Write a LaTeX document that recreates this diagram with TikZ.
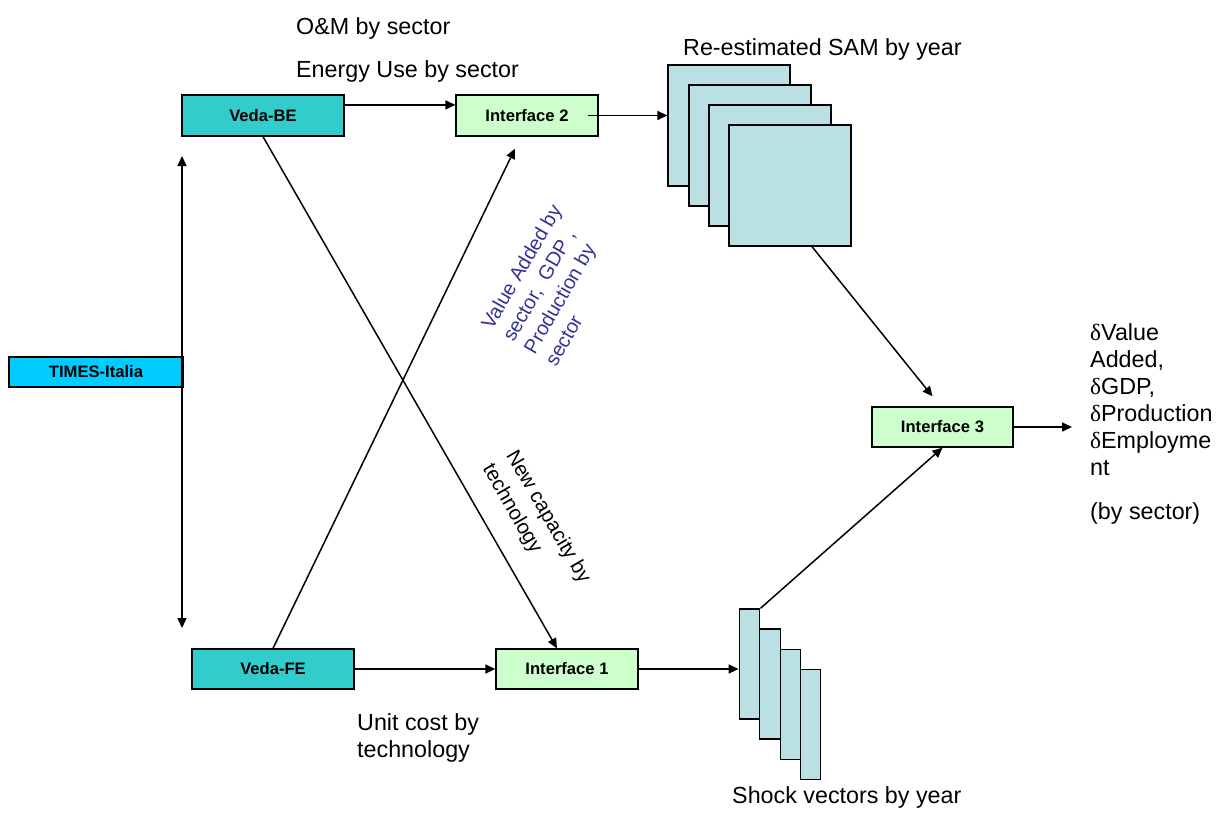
\documentclass[tikz,border=0pt]{standalone}
\usepackage{fontspec}
\setmainfont{Liberation Sans}
\newfontfamily\symf{Liberation Serif}
\usetikzlibrary{arrows.meta,calc}
\definecolor{veda}{HTML}{33CCCC}
\definecolor{times}{HTML}{00CCFF}
\definecolor{iface}{HTML}{CCFFCC}
\definecolor{sheet}{HTML}{BBE0E3}
\definecolor{lblue}{HTML}{333399}
\begin{document}
\begin{tikzpicture}[x=1pt,y=-1pt,
  box/.style={draw=black, line width=1.3pt, inner sep=0pt, font=\fontsize{16.6}{18}\selectfont\bfseries},
  sheetbox/.style={draw=black, line width=1.3pt, fill=sheet, inner sep=0pt, minimum width=122pt, minimum height=121pt},
  barbox/.style={draw=black, line width=1.3pt, fill=sheet, inner sep=0pt, minimum width=20.5pt, minimum height=110pt},
  arr/.style={line width=1.5pt, -{Triangle[length=10pt,width=9pt]}},
  txt/.style={font=\fontsize{23.3}{27}\selectfont, inner sep=0pt}]
\useasboundingbox (0,0) rectangle (1223,814);
% boxes
\node[box, fill=veda, minimum width=162pt, minimum height=41pt] (vbe) at (263,115.5) {Veda-BE};
\node[box, fill=iface, minimum width=142pt, minimum height=41pt] (if2) at (527,115.5) {Interface 2};
\node[box, fill=times, minimum width=174pt, minimum height=30pt] (times) at (96,372) {TIMES-Italia};
\node[box, fill=veda, minimum width=162pt, minimum height=40pt] (vfe) at (273,669) {Veda-FE};
\node[box, fill=iface, minimum width=142pt, minimum height=40pt] (if1) at (567,669) {Interface 1};
\node[box, fill=iface, minimum width=141pt, minimum height=40pt] (if3) at (942.5,427) {Interface 3};
% SAM sheets
\node[sheetbox] (sam1) at (729,125.5) {};
\node[sheetbox] (sam2) at (750,145.5) {};
\node[sheetbox] (sam3) at (770,165.5) {};
\node[sheetbox] (sam4) at (790,185.5) {};
% shock bars
\node[barbox] (bar1) at (749.5,664) {};
\node[barbox] (bar2) at (770,684) {};
\node[barbox] (bar3) at (790.5,704.5) {};
\node[barbox] (bar4) at (810.5,724.5) {};
% connectors
\draw[arr] ($(vbe.north east)!0.25!(vbe.south east)$) -- ($(if2.north west)!0.25!(if2.south west)$);
\draw[arr] ($(if2.east)+(-11,0)$) -- (sam1.west |- if2.east);
\draw[arr] (vfe.east) -- (if1.west);
\draw[arr] (if1.east) -- (bar1.west |- if1.east);
\draw[arr] (vbe.south) -- ($(if1.north)+(-10,0)$);
\draw[arr] (vfe.north) -- ($(if2.south)+(-12,12)$);
\draw[arr] ($(sam4.south)+(22,0)$) -- ($(if3.north)+(-10,-10)$);
\draw[arr] (bar1.north east) -- (if3.south);
\coordinate (out) at (1072,427);
\draw[arr] (if3.east) -- (out);
\coordinate (vt) at (182,156);
\coordinate (vb) at (182,628);
\draw[line width=1.5pt, {Triangle[length=10pt,width=9pt]}-{Triangle[length=10pt,width=9pt]}] (vt) -- (vb);
% texts
\node[txt, anchor=base west] (om) at (296,34) {O\&M by sector};
\node[txt, anchor=base west] (eu) at (296,77) {Energy Use by sector};
\node[txt, anchor=base west] (samlbl) at (683,55) {Re-estimated SAM by year};
\node[txt, anchor=base west, align=left] (uc) at (357,757) {Unit cost by\\technology};
\node[txt, anchor=base west] (shk) at (732,803) {Shock vectors by year};
\node[txt, anchor=base west, align=left] (res) at (1090,519) {{\symf δ}Value\\Added,\\{\symf δ}GDP,\\{\symf δ}Production\\{\symf δ}Employme\\nt\\[17pt](by sector)};
\node[rotate=60, align=left, inner sep=0pt, text=lblue, font=\fontsize{20}{24.5}\selectfont] (va) at (553,285) {Value Added by\\sector, \ GDP ,\\Production by\\sector};
\node[rotate=-60, align=left, inner sep=0pt, font=\fontsize{20.5}{27}\selectfont] (nc) at (536,524) {New capacity by\\technology};
\end{tikzpicture}
\end{document}
